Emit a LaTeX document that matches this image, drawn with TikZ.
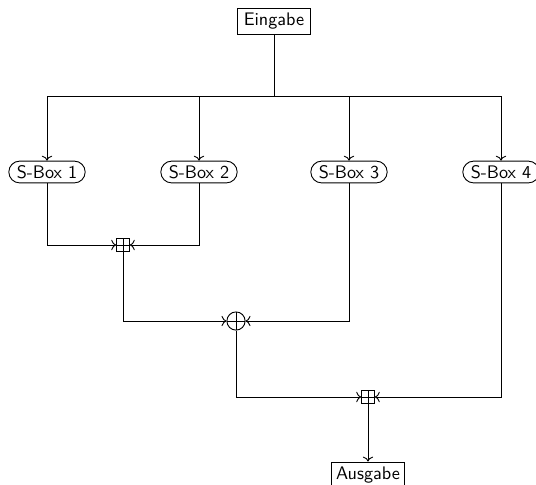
\documentclass[tikz,border=0pt]{standalone}
\usetikzlibrary{arrows.meta}
\begin{document}
\begin{tikzpicture}[x=0.55pt,y=-0.55pt, font=\sffamily, line width=0.5pt,
  io/.style={draw, rectangle, minimum width=40pt, minimum height=14.3pt, inner sep=2pt},
  sbox/.style={draw, rounded corners=6pt, minimum width=42pt, minimum height=12pt, inner sep=2pt},
  boxadd/.style={draw, rectangle, minimum size=7pt, inner sep=0pt,
    path picture={\draw (path picture bounding box.north) -- (path picture bounding box.south)
                        (path picture bounding box.west) -- (path picture bounding box.east);}},
  xorop/.style={draw, circle, minimum size=10pt, inner sep=0pt,
    path picture={\draw (path picture bounding box.north) -- (path picture bounding box.south)
                        (path picture bounding box.west) -- (path picture bounding box.east);}},
  flow/.style={->}]
\useasboundingbox (0,0) rectangle (536,484);

% input, bus and the four S-boxes
\node[io] (in) at (274,21) {Eingabe};
\coordinate (bus) at (274,96);
\node[sbox] (s1) at (47,172) {S-Box 1};
\node[sbox] (s2) at (199,172) {S-Box 2};
\node[sbox] (s3) at (349,172) {S-Box 3};
\node[sbox] (s4) at (501,172) {S-Box 4};

% combining operations
\node[boxadd] (a1) at (123,245) {};
\node[xorop] (x1) at (236,321) {};
\node[boxadd] (a2) at (368,397) {};
\node[io] (out) at (368,475) {Ausgabe};

\draw (in) -- (bus);
\draw (s1 |- bus) -- (s4 |- bus);
\foreach \s in {s1,s2,s3,s4} \draw[flow] (\s |- bus) -- (\s.north);

\draw[flow] (s1.south) |- (a1.west);
\draw[flow] (s2.south) |- (a1.east);
\draw[flow] (a1.south) |- (x1.west);
\draw[flow] (s3.south) |- (x1.east);
\draw[flow] (x1.south) |- (a2.west);
\draw[flow] (s4.south) |- (a2.east);
\draw[flow] (a2.south) -- (out.north);
\end{tikzpicture}
\end{document}
